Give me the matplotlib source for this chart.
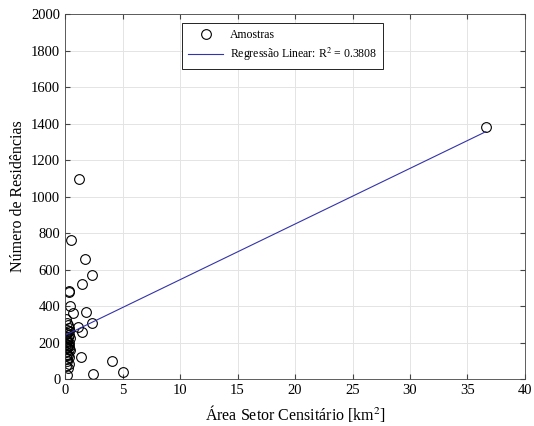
import numpy as np
import matplotlib
matplotlib.use("Agg")
import matplotlib.pyplot as plt

plt.rcParams['font.family'] = ['Liberation Serif', 'DejaVu Serif']
plt.rcParams['mathtext.fontset'] = 'stix'

# amostras: area (km2) x numero de residencias
area = [36.6, 1.2, 0.5, 1.74, 2.35, 1.48, 0.37, 0.32, 0.43, 0.7, 1.16, 1.8,
        2.3, 1.45, 1.36, 4.1, 5.0, 2.4, 0.15,
        0.1, 0.2, 0.25, 0.3, 0.15, 0.35, 0.2, 0.1, 0.3, 0.25, 0.4, 0.15,
        0.2, 0.3, 0.1, 0.25, 0.35, 0.2, 0.15, 0.3, 0.4, 0.1, 0.2, 0.25,
        0.3, 0.15, 0.2, 0.35, 0.1, 0.25, 0.2]
residencias = [1383, 1095, 760, 658, 570, 522, 485, 478, 398, 365, 285, 368,
               305, 258, 122, 97, 38, 26, 22,
               330, 310, 295, 280, 270, 262, 255, 248, 240, 232, 225, 218,
               210, 200, 195, 188, 182, 176, 170, 165, 160, 150, 140, 130,
               120, 110, 98, 85, 70, 60, 205]

r2_label = 'Regressão Linear: R$^2$ = 0.3808'

x = np.array(area)
y = np.array(residencias)
coef = np.polyfit(x, y, 1)
xl = np.array([x.min(), x.max()])

fig = plt.figure(figsize=(5.34, 4.26), dpi=100)
ax = fig.add_axes([0.122, 0.110, 0.861, 0.857])
ax.plot(x, y, 'o', mfc='none', mec='black', ms=7, mew=0.8, label='Amostras')
ax.plot(xl, np.polyval(coef, xl), color='#3333aa', lw=0.8, label=r2_label)

ax.set_xlim(0, 40)
ax.set_ylim(0, 2000)
ax.set_xticks(np.arange(0, 41, 5))
ax.set_yticks(np.arange(0, 2001, 200))
ax.grid(True, color='#e4e4e4', lw=0.7)
ax.set_axisbelow(True)
ax.tick_params(direction='in', top=True, right=True, labelsize=10.5, color='#444444')
for s in ax.spines.values():
    s.set_color('#444444')
    s.set_linewidth(0.6)
ax.set_xlabel('Área Setor Censitário [km$^2$]', fontsize=11.5)
ax.set_ylabel('Número de Residências', fontsize=11.5)
leg = ax.legend(loc='upper left', bbox_to_anchor=(0.254, 0.975), fontsize=8.5,
                fancybox=False, edgecolor='black', framealpha=1,
                borderaxespad=0, handlelength=3.0, handletextpad=0.6,
                borderpad=0.5, labelspacing=0.4)
leg.get_frame().set_linewidth(0.6)

fig.savefig('out.png', dpi=100)
